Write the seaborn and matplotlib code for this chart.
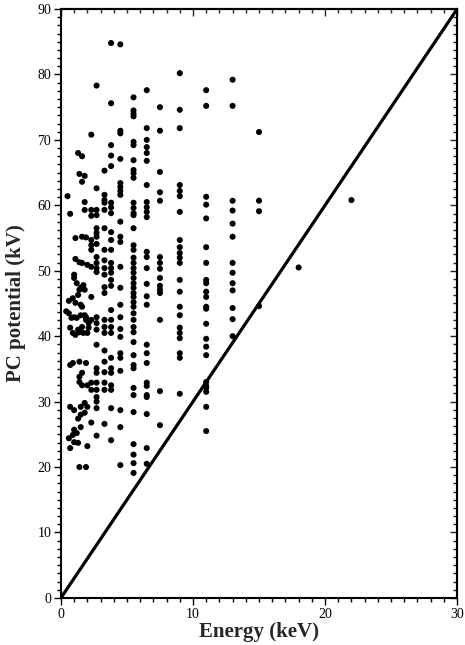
import matplotlib
matplotlib.use("Agg")
import matplotlib.pyplot as plt
import numpy as np
import pandas as pd
import seaborn as sns
from matplotlib.ticker import MultipleLocator, AutoMinorLocator

# Discrete energy columns (keV) and the PC potentials (kV) read at each
energy_22 = [60.8]
energy_18 = [50.5]
energy_15 = [71.2, 60.7, 59.1, 44.6]
energy_13 = [79.2, 75.2, 60.7, 59.2, 57.2, 55.2, 51.2, 49.7, 48.1, 47.0,
             44.3, 42.6, 40.0]
energy_11 = [77.6, 75.2, 61.3, 60.1, 58.0, 53.6, 51.2, 48.6, 48.1, 46.8,
             46.0, 44.5, 44.2, 41.9, 39.6, 38.4, 37.1, 33.0, 32.4, 32.1,
             31.5, 29.2, 25.5]
energy_9 = [80.2, 74.6, 71.8, 63.1, 62.2, 61.4, 59.0, 54.7, 53.6, 52.7,
            52.0, 51.2, 48.6, 46.8, 44.5, 43.2, 41.3, 40.5, 39.7, 37.4,
            36.7, 31.2]
energy_7_5 = [75.0, 71.4, 65.1, 62.0, 60.7, 52.1, 51.2, 50.3, 48.9, 47.7,
              47.1, 46.6, 42.5, 31.6, 26.4]
energy_6_5 = [77.6, 71.8, 70.0, 68.9, 68.0, 66.8, 63.1, 60.5, 59.7, 59.0,
              58.2, 52.9, 52.1, 50.4, 48.0, 46.1, 44.8, 38.7, 37.4, 35.9,
              32.9, 32.4, 31.0, 30.7, 28.1, 22.9, 20.5]
energy_5_5 = [76.5, 74.5, 74.0, 73.6, 69.7, 69.2, 66.9, 65.4, 64.9, 64.2,
              60.4, 59.6, 58.8, 58.5, 56.5, 53.9, 53.2, 52.0, 51.2, 50.4,
              49.7, 48.9, 48.1, 47.4, 46.6, 46.0, 45.2, 44.5, 43.5, 42.5,
              41.4, 40.6, 39.1, 37.1, 35.6, 35.1, 32.1, 31.0, 28.4, 23.5,
              21.9, 20.6, 19.1]
energy_4_5 = [84.6, 71.4, 71.0, 67.1, 63.4, 62.8, 62.2, 61.6, 57.5, 55.2,
              54.4, 50.6, 47.4, 44.8, 42.9, 41.1, 39.9, 37.4, 36.7, 34.7,
              28.7, 26.1, 20.3]
energy_3_8 = [84.8, 75.6, 69.2, 67.6, 66.0, 60.4, 59.7, 58.8, 55.9, 54.7,
              53.2, 51.2, 50.4, 49.7, 48.6, 47.7, 44.0, 42.5, 41.4, 40.5,
              36.7, 35.1, 34.4, 32.5, 31.8, 29.0, 24.1]
energy_3_3 = [65.3, 61.6, 60.8, 60.4, 59.3, 56.5, 53.2, 51.6, 50.4, 49.4,
              47.5, 46.6, 42.5, 41.4, 40.5, 37.8, 36.1, 34.5, 32.9, 31.8,
              26.6]
energy_2_7 = [78.3, 62.6, 59.3, 58.5, 56.5, 55.8, 55.2, 54.1, 52.1, 51.2,
              50.4, 49.8, 42.9, 42.0, 41.0, 38.7, 35.1, 34.4, 32.9, 31.8,
              30.7, 30.0, 29.0, 24.8]
energy_2_3 = [70.8, 59.3, 58.4, 54.7, 53.9, 53.2, 50.6, 46.0, 42.5, 32.9,
              31.8, 26.8]

# Low-energy cloud, where the energies are not on fixed columns
low_energy = [1.3, 1.6, 1.4, 1.8, 1.6, 1.8, 1.8, 0.7, 1.1, 1.6, 1.9, 1.1,
              1.4, 1.6, 2.0, 1.0, 1.0, 1.2, 1.8, 1.7, 1.5, 1.4, 1.3, 0.9,
              0.6, 1.1, 1.5, 1.6, 0.6, 1.0, 1.5, 0.8, 1.2, 1.8, 1.9, 1.9,
              2.1, 2.1, 0.7, 0.9, 1.1, 1.4, 1.7, 2.0, 1.3, 1.6, 0.7, 1.4,
              1.9, 0.9, 1.4, 1.6, 1.4, 1.6, 2.0, 0.7, 1.0, 1.5, 1.8, 2.0,
              1.5, 1.8, 1.3, 1.0, 1.2, 0.9, 1.5, 0.6, 1.0, 0.7, 1.3, 2.0,
              1.4, 1.9, 0.5, 0.4]
low_potential = [68.0, 67.5, 64.8, 64.5, 63.6, 60.5, 59.3, 58.7, 55.0, 55.2,
                 55.1, 51.8, 51.3, 51.2, 50.9, 49.4, 48.9, 48.1, 47.1, 47.8,
                 47.4, 47.1, 46.3, 45.8, 45.4, 45.1, 44.8, 44.5, 43.5, 42.9,
                 43.2, 42.8, 42.8, 43.2, 42.5, 42.9, 42.0, 41.3, 41.3, 40.5,
                 40.2, 40.6, 40.5, 40.5, 41.0, 41.4, 35.6, 36.1, 35.9, 35.9,
                 33.8, 34.4, 33.0, 32.5, 32.5, 29.2, 28.7, 29.2, 29.8, 29.2,
                 28.0, 28.3, 27.4, 25.7, 25.2, 24.9, 26.1, 24.4, 23.8, 22.9,
                 23.7, 23.2, 20.0, 20.0, 61.4, 43.8]

# Reference line potential = 3 x energy
line_energy = [0, 30]
line_potential = [0, 90]

columns = {
    22.0: energy_22, 18.0: energy_18, 15.0: energy_15, 13.0: energy_13,
    11.0: energy_11, 9.0: energy_9, 7.5: energy_7_5, 6.5: energy_6_5,
    5.5: energy_5_5, 4.5: energy_4_5, 3.8: energy_3_8, 3.3: energy_3_3,
    2.7: energy_2_7, 2.3: energy_2_3,
}

rows = [(e, v) for e, vals in columns.items() for v in vals]
rows += list(zip(low_energy, low_potential))
df = pd.DataFrame(rows, columns=["energy", "potential"])

sns.set_theme(style="white")
plt.rcParams["font.family"] = ["Liberation Serif", "DejaVu Serif"]

fig = plt.figure(figsize=(4.65, 6.45), dpi=100)
ax = fig.add_axes([0.131, 0.073, 0.852, 0.913])

sns.lineplot(x=line_energy, y=line_potential, color="black", lw=2.3, ax=ax)
sns.scatterplot(data=df, x="energy", y="potential", color="black", s=19,
                edgecolor="none", ax=ax, zorder=3)

ax.set_xlim(0, 30)
ax.set_ylim(0, 90)
ax.xaxis.set_major_locator(MultipleLocator(10))
ax.xaxis.set_minor_locator(MultipleLocator(1))
ax.yaxis.set_major_locator(MultipleLocator(10))
ax.yaxis.set_minor_locator(AutoMinorLocator(8))
ax.tick_params(which="both", direction="out", colors="black", labelsize=10,
               bottom=True, left=True, width=1.0)
ax.tick_params(which="major", length=5, pad=2)
ax.tick_params(which="minor", length=3)

top = ax.secondary_xaxis("top")
top.xaxis.set_major_locator(MultipleLocator(10))
top.xaxis.set_minor_locator(MultipleLocator(1))
top.tick_params(which="both", direction="in", labeltop=False, width=1.0)
top.tick_params(which="major", length=5)
top.tick_params(which="minor", length=3)
right = ax.secondary_yaxis("right")
right.yaxis.set_major_locator(MultipleLocator(10))
right.yaxis.set_minor_locator(AutoMinorLocator(8))
right.tick_params(which="both", direction="in", labelright=False, width=1.0)
right.tick_params(which="major", length=5)
right.tick_params(which="minor", length=3)

for side in ax.spines.values():
    side.set_color("black")
    side.set_linewidth(1.5)
top.spines["top"].set_linewidth(1.5)
right.spines["right"].set_linewidth(1.5)

ax.set_xlabel("Energy (keV)", fontsize=15, fontweight="bold", labelpad=1)
ax.set_ylabel("PC potential (kV)", fontsize=15, fontweight="bold", labelpad=8)

fig.savefig("out.png", dpi=100)
